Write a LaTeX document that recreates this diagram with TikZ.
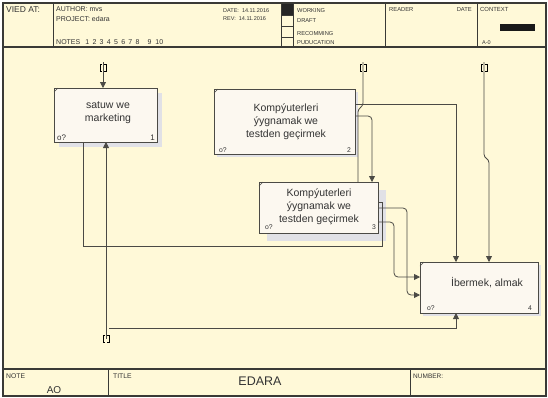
\documentclass[tikz,border=0pt]{standalone}
\usepackage{fontspec}
\setmainfont{Liberation Sans}
\usetikzlibrary{arrows.meta,calc,shadows}
\definecolor{bg}{HTML}{FFF9D8}
\definecolor{boxfill}{HTML}{FCF8F0}
\definecolor{shade}{HTML}{E1E1E6}
\definecolor{ln}{HTML}{4B4A45}
\definecolor{frm}{HTML}{3A3A36}
\definecolor{txt}{HTML}{333333}
\newcommand\fsz[1]{\fontsize{#1}{#1}\selectfont}
\begin{document}
\begin{tikzpicture}[x=1pt,y=-1pt,
  frameline/.style={draw=frm,line width=1.2pt},
  cell/.style={draw=frm,line width=0.8pt},
  hdr/.style={anchor=base west,inner sep=0,text=txt},
  box/.style={draw=ln,fill=boxfill,line width=0.9pt,inner sep=0,outer sep=0,anchor=north west},
  shd/.style={drop shadow={shadow xshift=#1pt,shadow yshift=-#1pt,fill=shade,opacity=1}},
  boxtext/.style={align=center,inner sep=0,text=txt,font={\fontsize{10.5}{13}\selectfont}},
  cornertag/.style={inner sep=0,text=txt,font=\fsz{6.8}},
  conn/.style={draw=ln,line width=0.8pt},
  arr/.style={draw=ln,line width=0.8pt,-{Triangle[length=6pt,width=6pt]}},
  tunnel/.pic={\draw[line width=0.7pt,draw=black] (-0.8,-3.2) -- (-3,-3.2) -- (-3,3.2) -- (-0.8,3.2) (0.8,-3.2) -- (3,-3.2) -- (3,3.2) -- (0.8,3.2);}
]
\useasboundingbox (0,0) rectangle (548,397);
\fill[white] (0,0) rectangle (548,397);
\fill[bg] (3,3) rectangle (546,396);

% ---------- header ----------
\fill[black!85] (281,3) rectangle (293,15);
\draw[cell] (53,3) -- (53,47) (281,3) -- (281,47) (293,3) -- (293,47)
            (385,3) -- (385,47) (477,3) -- (477,47);
\draw[cell] (281,15) -- (293,15) (281,26) -- (293,26) (281,37) -- (293,37);
\fill[black!90] (500,24) rectangle (535,31);

\node[hdr,font=\fsz{8.5}] (vied) at (6,12.5) {VIED AT:};
\node[hdr,font=\fsz{7}] (author) at (56,11) {AUTHOR: mvs};
\node[hdr,font=\fsz{7}] (project) at (56,21) {PROJECT: edara};
\node[hdr,font=\fsz{7}] (notes) at (56,44.5) {NOTES\hspace{5pt}1\hspace{3.3pt}2\hspace{3.3pt}3\hspace{3.3pt}4\hspace{3.3pt}5\hspace{3.3pt}6\hspace{3.3pt}7\hspace{3.3pt}8\hspace{8pt}9\hspace{4pt}10};
\node[hdr,font=\fsz{5.5}] (date) at (223,12) {DATE:\ \ 14.11.2016};
\node[hdr,font=\fsz{5.5}] (rev) at (223,20.5) {REV:\ \ 14.11.2016};
\node[hdr,font=\fsz{5.7}] (working) at (297,12.3) {WORKING};
\node[hdr,font=\fsz{5.7}] (draft) at (297,22) {DRAFT};
\node[hdr,font=\fsz{5.7}] (recom) at (297,35.5) {RECOMMING};
\node[hdr,font=\fsz{5.7}] (pubu) at (297,44) {PUDUCATION};
\node[hdr,font=\fsz{5.8}] (reader) at (389,11.7) {READER};
\node[hdr,font=\fsz{5.8},anchor=base east] (rdate) at (472,11.7) {DATE};
\node[hdr,font=\fsz{5.9}] (context) at (480,11.7) {CONTEXT};
\node[hdr,font=\fsz{5.5}] (anode) at (482,44) {A-0};

% ---------- footer ----------
\draw[cell] (108,369) -- (108,396) (410,369) -- (410,396);
\node[hdr,font=\fsz{6.8}] (note) at (6,378) {NOTE};
\node[font=\fsz{10},inner sep=0,text=txt] (ao) at (54,390) {AO};
\node[hdr,font=\fsz{6.8}] (title) at (113,378) {TITLE};
\node[font=\fsz{12.5},inner sep=0,text=txt] (edara) at (260,381) {EDARA};
\node[hdr,font=\fsz{6.5}] (number) at (413,378) {NUMBER:};

% frame
\draw[frameline] (3,3) rectangle (546,396);
\draw[frameline] (3,47) -- (546,47) (3,369) -- (546,369);

% ---------- boxes ----------
\node[box,minimum width=103pt,minimum height=54pt,shd=5] (b1) at (54,88) {};
\node[box,minimum width=141pt,minimum height=65pt,shd=3] (b2) at (214,89) {};
\node[box,minimum width=119pt,minimum height=51pt,shd=8] (b3) at (259,182) {};
\node[box,minimum width=118pt,minimum height=51pt,shd=3] (b4) at (420,262) {};

\foreach \b in {b1,b2,b3,b4}
  \draw[ln,line width=0.6pt] ($(\b.north west)+(0,4)$) -- ($(\b.north west)+(4,0)$);

\node[boxtext] (l1) at (108,113) {satuw we\\marketing};
\node[boxtext] (l2) at (286,122) {Kompýuterleri\\ýygnamak we\\testden geçirmek};
\node[boxtext] (l3) at (319,207) {Kompýuterleri\\ýygnamak we\\testden geçirmek};
\node[boxtext] (l4) at (487,283) {İbermek, almak};

\node[cornertag,font=\fsz{8},anchor=base west] (q1) at ($(b1.south west)+(3,-2)$) {o?};
\node[cornertag,font=\fsz{8},anchor=base east] (n1) at ($(b1.south east)+(-2,-2)$) {1};
\node[cornertag,anchor=base west] (q2) at ($(b2.south west)+(5,-2)$) {o?};
\node[cornertag,anchor=base east] (n2) at ($(b2.south east)+(-4,-2)$) {2};
\node[cornertag,anchor=base west] (q3) at ($(b3.south west)+(6,-4)$) {o?};
\node[cornertag,anchor=base east] (n3) at ($(b3.south east)+(-2,-4)$) {3};
\node[cornertag,anchor=base west] (q4) at ($(b4.south west)+(7,-3)$) {o?};
\node[cornertag,anchor=base east] (n4) at ($(b4.south east)+(-6,-3)$) {4};

% ---------- tunnels ----------
\coordinate (t1) at (103,68);
\coordinate (t2) at (363,68);
\coordinate (t3) at (484,68);
\coordinate (t4) at (106,339);

% ---------- connectors ----------
\draw[arr] ($(t1)+(0,-6)$) -- (t1 |- b1.north);
\draw[conn] ($(t2)+(0,-6)$) -- ($(t2)+(0,35)$) .. controls ($(t2)+(0,39)$) and ($(t2)+(-5,40)$) .. ($(t2)+(-5,44)$) -- ($(b3.north west)+(99,0)$);
\draw[arr] ($(b2.north east)+(0,15)$) -| ($(b4.north west)+(36,0)$);
\draw[arr,rounded corners=4pt] ($(b2.north east)+(0,27)$) -| ($(b3.north west)+(113,0)$);
\draw[arr] ($(t3)+(0,-6)$) -- ($(t3)+(0,86)$) .. controls ($(t3)+(0,91)$) and ($(t3)+(5,90)$) .. ($(t3)+(5,95)$) -- ($(b4.north west)+(69,0)$);
\draw[arr,rounded corners=4pt] ($(b3.north east)+(0,26)$) -| ($(b4.north west)+(-13,33)$) -- ($(b4.north west)+(0,33)$);
\draw[arr,rounded corners=4pt] ($(b3.north east)+(0,40)$) -| ($(b4.north west)+(-26,15)$) -- ($(b4.north west)+(0,15)$);
\draw[conn] ($(b3.north east)+(0,20)$) -- ++(4,0) |- ($(b1.south west)+(29,104)$) -- ($(b1.south west)+(29,0)$);
\draw[arr] (t4) -- ($(b1.south west)+(52,0)$);
\draw[arr] ($(t4)+(3,-11)$) -| ($(b4.south west)+(36,0)$);

\pic at (t1) {tunnel};
\pic at (t2) {tunnel};
\pic at (t3) {tunnel};
\pic at (t4) {tunnel};
\end{tikzpicture}
\end{document}
